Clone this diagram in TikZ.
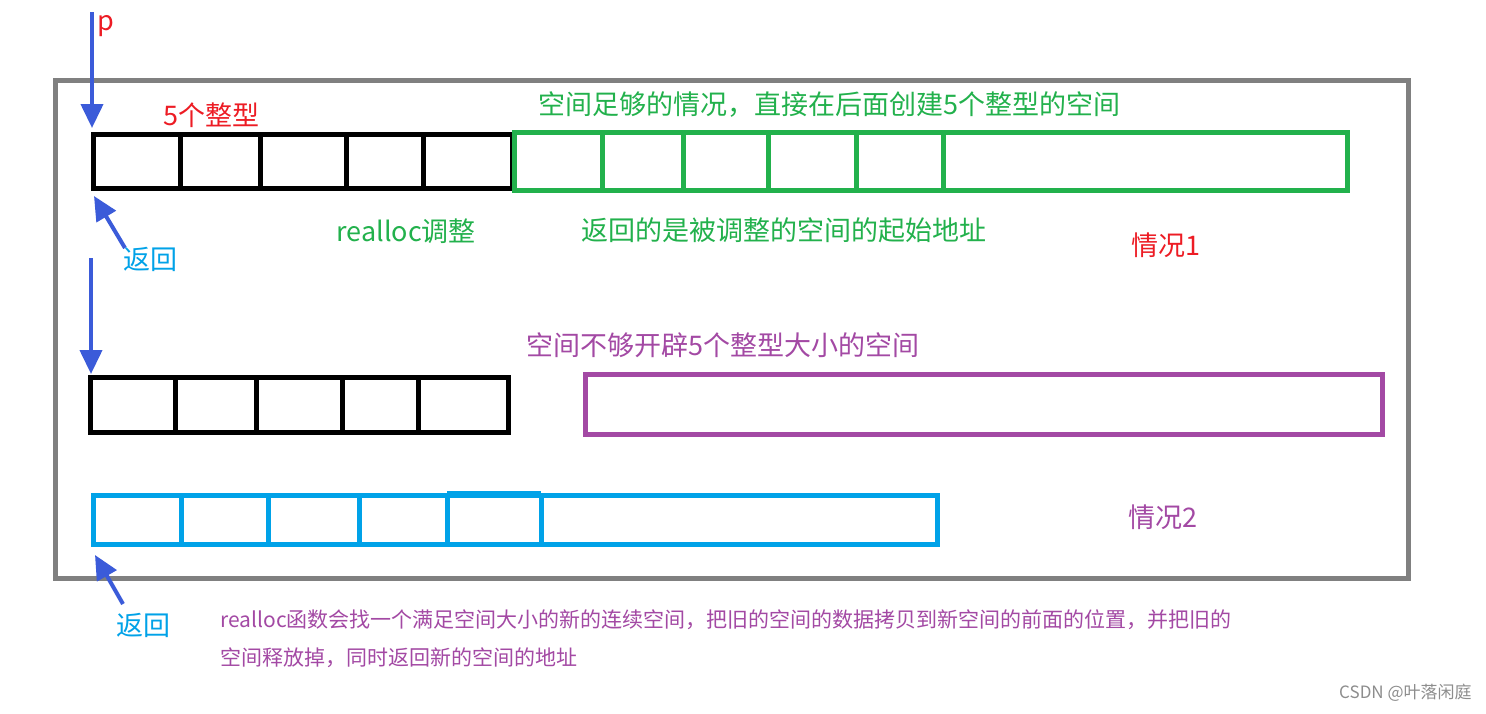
\documentclass[tikz,border=0pt]{standalone}
\usepackage{fontspec}
\setmainfont{Noto Sans CJK SC}
\usetikzlibrary{arrows.meta}

\definecolor{redtxt}{HTML}{ED1C24}
\definecolor{greenbox}{HTML}{22B14C}
\definecolor{purplebox}{HTML}{A349A4}
\definecolor{cyanbox}{HTML}{00A2E8}
\definecolor{arrowblue}{HTML}{3B5BD9}
\definecolor{framegray}{HTML}{808080}

\begin{document}
\begin{tikzpicture}[x=0.5pt,y=-0.5pt,
    cell/.style={line width=2.5pt},
    ptr/.style={draw=arrowblue,line width=2pt,-{Triangle[length=12pt,width=11pt]}},
    big/.style={font=\fontsize{13.5}{16}\selectfont,anchor=west,inner sep=0pt},
    small/.style={font=\fontsize{10.5}{13}\selectfont,anchor=west,inner sep=0pt}]

	\fill[white] (0,0) rectangle (1486,713);
	\useasboundingbox (0,0) rectangle (1486,713);

	\draw[framegray,line width=2.5pt] (55,80) rectangle (1408,578);

	% case 1: old block and the space behind it
	\draw[cell] (93,134) rectangle (512,188);
	\foreach \x in {180,260,346,423}
	    \draw[cell] (\x,134) -- (\x,188);
	\draw[cell,greenbox] (514,132) rectangle (1347,190);
	\foreach \x in {602,683,768,856,943}
	    \draw[cell,greenbox] (\x,132) -- (\x,190);

	% case 2: old block, too small gap, new block
	\draw[cell] (90,377) rectangle (508,432);
	\foreach \x in {175,256,342,418}
	    \draw[cell] (\x,377) -- (\x,432);
	\draw[cell,purplebox] (585,374) rectangle (1382,434);
	\draw[cell,cyanbox] (93,495) rectangle (937,544);
	\foreach \x in {181,268,359,447,541}
	    \draw[cell,cyanbox] (\x,495) -- (\x,544);
	\draw[cell,cyanbox] (447,493) -- (541,493);

	% pointers
	\coordinate (pTop) at (92,12);
	\coordinate (row1nw) at (92,128);
	\coordinate (back1) at (125,248);
	\coordinate (row1sw) at (94,196);
	\coordinate (pTop2) at (91,258);
	\coordinate (row2nw) at (91,374);
	\coordinate (back2) at (123,604);
	\coordinate (row3sw) at (95,555);

	\draw[ptr] (pTop) -- (row1nw);
	\draw[ptr] (back1) -- (row1sw);
	\draw[ptr] (pTop2) -- (row2nw);
	\draw[ptr] (back2) -- (row3sw);

	\node[big,redtxt] (pname) at (97,26) {p};
	\node[big,redtxt] (five) at (163,115) {5个整型};
	\node[big,greenbox] (enough) at (538,105) {空间足够的情况，直接在后面创建5个整型的空间};
	\node[big,greenbox] (adjust) at (336,231) {realloc调整};
	\node[big,greenbox] (start) at (581,230) {返回的是被调整的空间的起始地址};
	\node[big,redtxt] (case1) at (1131,245) {情况1};
	\node[big,cyanbox] (ret1) at (123,259) {返回};

	\node[big,purplebox] (short) at (526,345) {空间不够开辟5个整型大小的空间};
	\node[big,purplebox] (case2) at (1128,517) {情况2};
	\node[big,cyanbox] (ret2) at (116,625) {返回};

	\node[small,purplebox] (note1) at (220,620) {realloc函数会找一个满足空间大小的新的连续空间，把旧的空间的数据拷贝到新空间的前面的位置，并把旧的};
	\node[small,purplebox] (note2) at (220,658) {空间释放掉，同时返回新的空间的地址};

	\node[font=\fontsize{8.5}{10}\selectfont,text=framegray!90,anchor=east,inner sep=0pt] (mark) at (1472,693) {CSDN @叶落闲庭};

\end{tikzpicture}
\end{document}
